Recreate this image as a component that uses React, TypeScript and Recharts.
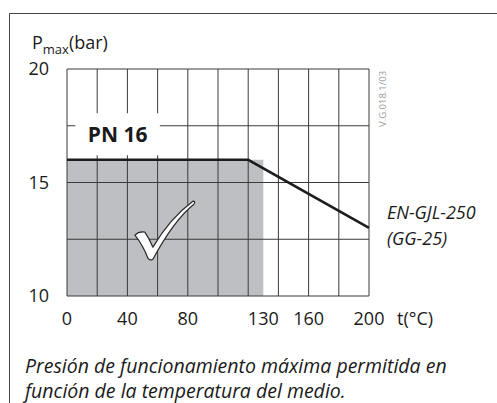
import React from "react";
import { ComposedChart, Line, XAxis, YAxis, ReferenceLine, ReferenceArea, ReferenceDot, Label } from "recharts";

// pressure/temperature limit for EN-GJL-250 (GG-25), PN 16
const temps = [0, 120, 200];
const pressures = [16, 16, 13];

const xTicks = [0, 40, 80, 130, 160, 200];
const yTicks = [10, 15, 20];
const xGrid = [0, 20, 40, 60, 80, 100, 120, 140, 160, 180, 200];
const yGrid = [10, 12.5, 15, 17.5, 20];

// shaded "allowed" zone: temperature 0..130, pressure 10..16
const zoneT = [0, 130];
const zoneP = [10, 16];

const FONT = "'Open Sans', sans-serif";
const INK = "#1a1a1a";
const GRID = "#3a3a3a";

const data = temps.map((t, i) => ({ t, p: pressures[i] }));

function CheckMark(props: any) {
  const { cx, cy } = props;
  if (cx == null || cy == null) return null;
  return (
    <path
      transform={`translate(${cx},${cy})`}
      d="M -31 5 Q -27 1 -21 2 Q -17 8 -13 17 Q 4 -12 27 -29 Q 30 -29 28 -26 Q 8 -10 -13 29 Q -16 31 -18 28 Q -23 15 -31 5 Z"
      fill="#fff"
      stroke="#2a2a2a"
      strokeWidth={1.2}
      strokeLinejoin="round"
    />
  );
}

export default function App() {
  return (
    <div style={{ position: "absolute", left: 0, top: 0, background: "#fff" }}>
      <ComposedChart
        width={497}
        height={403}
        data={data}
        margin={{ top: 69, right: 128, bottom: 77, left: 7 }}
        style={{ fontFamily: FONT }}
      >
        <XAxis
          dataKey="t"
          type="number"
          domain={[0, 200]}
          ticks={xTicks}
          axisLine={false}
          tickLine={false}
          height={30}
          tickMargin={10}
          tick={{ fontSize: 18, fill: INK }}
        />
        <YAxis
          type="number"
          domain={[10, 20]}
          ticks={yTicks}
          axisLine={false}
          tickLine={false}
          width={60}
          tickMargin={12}
          tick={{ fontSize: 18, fill: INK }}
        />

        <ReferenceArea
          x1={zoneT[0]}
          x2={zoneT[1]}
          y1={zoneP[0]}
          y2={zoneP[1]}
          fill="#bebfc2"
          fillOpacity={1}
          stroke="none"
          zIndex={100}
        />

        {xGrid.map((v) => (
          <ReferenceLine key={"x" + v} x={v} stroke={GRID} strokeWidth={1} zIndex={400} />
        ))}
        {yGrid.map((v) => (
          <ReferenceLine key={"y" + v} y={v} stroke={GRID} strokeWidth={1} zIndex={400} />
        ))}

        <ReferenceArea
          x1={5.5}
          x2={61.5}
          y1={16.2}
          y2={18.05}
          fill="#fff"
          fillOpacity={1}
          stroke="none"
          zIndex={450}
        >
          <Label value="PN 16" position="center" fontSize={21} fontWeight="bold" fill={INK} />
        </ReferenceArea>

        <Line
          dataKey="p"
          type="linear"
          stroke="#1c1c1c"
          strokeWidth={2.5}
          dot={false}
          activeDot={false}
          isAnimationActive={false}
          zIndex={500}
        />

        <ReferenceDot x={65.5} y={12.9} r={0} shape={CheckMark} zIndex={600} />

        {/* frame */}
        <line x1={9.5} y1={13.5} x2={497} y2={13.5} stroke="#444" strokeWidth={1} />
        <line x1={9.5} y1={13.5} x2={9.5} y2={403} stroke="#444" strokeWidth={1} />

        <text x={32} y={49} fontSize={18} fill={INK}>
          P
          <tspan fontSize={13} dy={5}>max</tspan>
          <tspan fontSize={18} dy={-5}>(bar)</tspan>
        </text>

        <text x={397} y={325} fontSize={18} fill={INK}>t(°C)</text>

        <text x={387} y={219} fontSize={18} fontStyle="italic" fill={INK}>EN-GJL-250</text>
        <text x={387} y={245} fontSize={18} fontStyle="italic" fill={INK}>(GG-25)</text>

        <text
          x={386}
          y={127}
          fontSize={9.5}
          fill="#9a9a9a"
          transform="rotate(-90 386 127)"
        >
          V.G.018.1/03
        </text>

        <text x={25} y={373} fontSize={19.5} fontStyle="italic" fill={INK}>
          Presión de funcionamiento máxima permitida en
        </text>
        <text x={25} y={398} fontSize={19.5} fontStyle="italic" fill={INK}>
          función de la temperatura del medio.
        </text>
      </ComposedChart>
    </div>
  );
}
